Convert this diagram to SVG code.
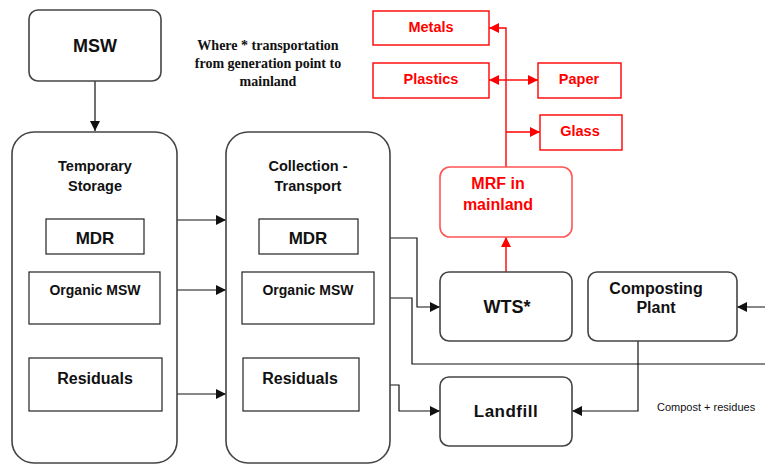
<svg xmlns="http://www.w3.org/2000/svg" width="765" height="466" viewBox="0 0 765 466">
<defs>
<style>
.rb{fill:#fff;stroke:#444;stroke-width:1.6}
.bx{fill:#fff;stroke:#222;stroke-width:1.2}
.rd{fill:#fff;stroke:#f00;stroke-width:1.4}
.mrf{fill:#fff;stroke:#f55;stroke-width:1.6}
.t{font-family:"Liberation Sans",Arial,sans-serif;font-weight:bold;text-anchor:middle;fill:#111}
.tr{font-family:"Liberation Sans",Arial,sans-serif;font-weight:bold;text-anchor:middle;fill:#f00}
.c{fill:none;stroke:#111;stroke-width:1.2}
.cr{fill:none;stroke:#f00;stroke-width:1.4}
</style>
<marker id="ab" viewBox="0 0 10 10" refX="10" refY="5" markerWidth="10" markerHeight="10" markerUnits="userSpaceOnUse" orient="auto"><path d="M0,0 L10,5 L0,10 z" fill="#111"/></marker>
<marker id="ar" viewBox="0 0 10 10" refX="10" refY="5" markerWidth="10" markerHeight="10" markerUnits="userSpaceOnUse" orient="auto"><path d="M0,0 L10,5 L0,10 z" fill="#f00"/></marker>
</defs>
<rect width="765" height="466" fill="#fff"/>

<g id="connectors">
<path class="c" d="M95,81 V131" marker-end="url(#ab)"/>
<path class="c" d="M177,220 H226" marker-end="url(#ab)"/>
<path class="c" d="M177,290 H226" marker-end="url(#ab)"/>
<path class="c" d="M177,394 H226" marker-end="url(#ab)"/>
<path class="c" d="M358,238 H417 V307 H440" marker-end="url(#ab)"/>
<path class="c" d="M374,298 H412 V364 H790 V307 H737" marker-end="url(#ab)"/>
<path class="c" d="M359,385 H399 V411 H440" marker-end="url(#ab)"/>
<path class="c" d="M638,341 V411 H572" marker-end="url(#ab)"/>
<path class="cr" d="M506,272 V237" marker-end="url(#ar)"/>
<path class="cr" d="M506,167 V28 H489" marker-end="url(#ar)"/>
<path class="cr" d="M506,80 H489" marker-end="url(#ar)"/>
<path class="cr" d="M506,80 H538" marker-end="url(#ar)"/>
<path class="cr" d="M506,132 H540" marker-end="url(#ar)"/>
</g>

<g id="msw"><rect class="rb" x="29" y="10" width="132" height="71" rx="9"/><text class="t" x="95" y="52" font-size="18">MSW</text></g>

<g id="note"><text font-family="'Liberation Serif','Times New Roman',serif" font-weight="bold" font-size="14" text-anchor="middle" fill="#111"><tspan x="268" y="50">Where * transportation</tspan><tspan x="268" y="68">from generation point to</tspan><tspan x="268" y="86">mainland</tspan></text></g>

<g id="temporary-storage"><rect class="rb" x="12" y="132" width="165" height="331" rx="22"/><text class="t" x="95" y="171" font-size="14.5">Temporary</text><text class="t" x="95" y="191" font-size="14.5">Storage</text></g>
<g id="ts-mdr"><rect class="bx" x="46" y="219" width="98" height="35"/><text class="t" x="95" y="244" font-size="17">MDR</text></g>
<g id="ts-organic"><rect class="bx" x="29" y="272" width="131" height="52"/><text class="t" x="95" y="295" font-size="14">Organic MSW</text></g>
<g id="ts-residuals"><rect class="bx" x="29" y="358" width="133" height="53"/><text class="t" x="95" y="384" font-size="16">Residuals</text></g>

<g id="collection-transport"><rect class="rb" x="226" y="132" width="164" height="331" rx="22"/><text class="t" x="308" y="171" font-size="14.5">Collection -</text><text class="t" x="308" y="191" font-size="14.5">Transport</text></g>
<g id="ct-mdr"><rect class="bx" x="259" y="219" width="99" height="35"/><text class="t" x="308" y="244" font-size="17">MDR</text></g>
<g id="ct-organic"><rect class="bx" x="242" y="272" width="132" height="52"/><text class="t" x="308" y="295" font-size="14">Organic MSW</text></g>
<g id="ct-residuals"><rect class="bx" x="243" y="358" width="116" height="53"/><text class="t" x="300" y="384" font-size="16">Residuals</text></g>

<g id="wts"><rect class="rb" x="440" y="272" width="132" height="69" rx="9"/><text class="t" x="507" y="313" font-size="18">WTS*</text></g>
<g id="composting"><rect class="rb" x="588" y="272" width="149" height="69" rx="9"/><text class="t" x="656" y="294" font-size="16">Composting</text><text class="t" x="656" y="313" font-size="16">Plant</text></g>
<g id="landfill"><rect class="rb" x="440" y="377" width="132" height="69" rx="9"/><text class="t" x="506" y="417" font-size="17" letter-spacing="0.5">Landfill</text></g>
<text font-family="'Liberation Sans',Arial,sans-serif" font-size="11" x="657" y="411" fill="#111">Compost + residues</text>

<g id="mrf"><rect class="mrf" x="440" y="167" width="132" height="70" rx="10"/><text class="tr" x="498" y="189" font-size="16">MRF in</text><text class="tr" x="498" y="210" font-size="16">mainland</text></g>
<g id="metals"><rect class="rd" x="373" y="11" width="116" height="34"/><text class="tr" x="431" y="32" font-size="14.5">Metals</text></g>
<g id="plastics"><rect class="rd" x="373" y="63" width="116" height="35"/><text class="tr" x="431" y="84" font-size="14.5">Plastics</text></g>
<g id="paper"><rect class="rd" x="538" y="63" width="83" height="35"/><text class="tr" x="579" y="84" font-size="14.5">Paper</text></g>
<g id="glass"><rect class="rd" x="540" y="115" width="82" height="35"/><text class="tr" x="580" y="136" font-size="14.5">Glass</text></g>
</svg>
